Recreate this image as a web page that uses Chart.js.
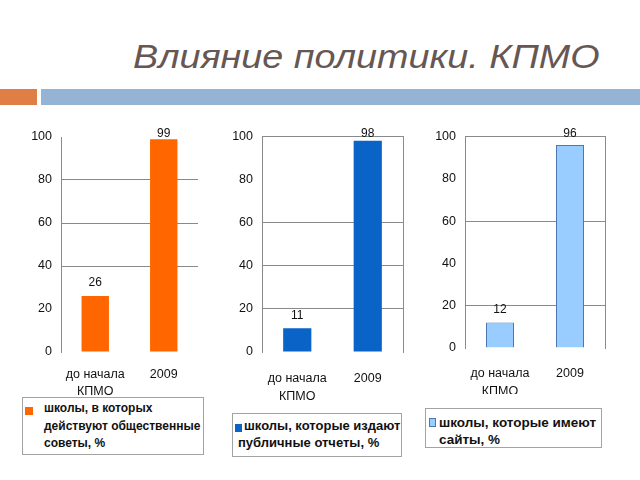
<!DOCTYPE html>
<html lang="ru">
<head>
<meta charset="utf-8">
<title>Влияние политики. КПМО</title>
<script src="https://cdn.jsdelivr.net/npm/chart.js@4.4.1/dist/chart.umd.min.js"></script>
<style>
    html, body { margin: 0; padding: 0; background: #fff; }
    body { width: 640px; height: 480px; position: relative; overflow: hidden;
           font-family: "Liberation Sans", Arial, sans-serif; }
    .title { position: absolute; left: 133px; top: 39px; font-size: 34px; line-height: 1;
             font-style: italic; color: #665754; white-space: nowrap;
             transform: scaleX(1.11); transform-origin: 0 0; }
    .rule-a { position: absolute; left: 0; top: 89px; width: 37px; height: 16px; background: #e07f45; }
    .rule-b { position: absolute; left: 41px; top: 89px; width: 599px; height: 16px; background: #95b3d2; }
    .box { position: absolute; }
    .box canvas { display: block; }
    .legend { position: absolute; border: 1px solid #a3a3a3; box-sizing: border-box;
              font-weight: bold; color: #111; }
    .legend .sw { position: absolute; }
    .legend .txt { position: absolute; }
</style>
</head>
<body>
<div class="title">Влияние политики. КПМО</div>
<div class="rule-a"></div>
<div class="rule-b"></div>

<div class="box" style="left:20px; top:120px; width:185px; height:277px;"><canvas id="councilsChart"></canvas></div>
<div class="box" style="left:220px; top:120px; width:190px; height:280px;"><canvas id="reportsChart"></canvas></div>
<div class="box" style="left:424px; top:120px; width:188px; height:274px;"><canvas id="sitesChart"></canvas></div>

<div class="legend" id="legend1" style="left:22px; top:397px; width:182px; height:58px; font-size:12px;"></div>
<div class="legend" id="legend2" style="left:232px; top:413px; width:170px; height:44px; font-size:13px;"></div>
<div class="legend" id="legend3" style="left:425px; top:408px; width:177px; height:40px; font-size:13.5px;"></div>

<script>
// Данные
const categories = [['до начала', 'КПМО'], '2009'];
const councilsValues = [26, 99];
const reportsValues = [11, 98];
const sitesValues = [12, 96];
const yTicks = [0, 20, 40, 60, 80, 100];
const seriesNames = [
    'школы, в которых действуют общественные советы, %',
    'школы, которые издают публичные отчеты, %',
    'школы, которые имеют сайты, %'
];

const axisFont = '"Liberation Sans", Arial, sans-serif';

// подписи значений над столбцами
const valueLabels = {
    id: 'valueLabels',
    afterDatasetsDraw(chart) {
        const ctx = chart.ctx;
        const meta = chart.getDatasetMeta(0);
        ctx.save();
        ctx.font = '12px ' + axisFont;
        ctx.fillStyle = '#111';
        ctx.textAlign = 'center';
        ctx.textBaseline = 'middle';
        meta.data.forEach((bar, i) => {
            const y = Math.max(bar.y - 13, chart.chartArea.top - 3);
            ctx.fillText(chart.data.datasets[0].data[i], bar.x, y);
        });
        ctx.restore();
    }
};

const createBarChart = (canvasId, values, cfg) => {
    const ctx = document.getElementById(canvasId);
    if (!ctx) return;

    new Chart(ctx, {
        type: 'bar',
        data: {
            labels: categories,
            datasets: [{
                data: values,
                backgroundColor: cfg.color,
                borderColor: cfg.border || cfg.color,
                borderWidth: cfg.border ? 1 : 0,
                categoryPercentage: 1,
                barPercentage: 0.4
            }]
        },
        options: {
            responsive: true,
            maintainAspectRatio: false,
            animation: false,
            layout: { padding: cfg.padding },
            plugins: {
                legend: { display: false },
                tooltip: { enabled: false }
            },
            scales: {
                x: {
                    grid: { display: false, drawTicks: false },
                    border: { display: false },
                    ticks: {
                        color: '#111',
                        padding: cfg.xPad,
                        maxRotation: 0,
                        minRotation: 0,
                        autoSkip: false,
                        font: { family: axisFont, size: 12.5, lineHeight: cfg.xLine + 'px' }
                    },
                    afterFit: (s) => { s.height = cfg.xHeight; s.paddingLeft = 0; s.paddingRight = 0; }
                },
                y: {
                    min: 0,
                    max: 100,
                    afterBuildTicks: (s) => { s.ticks = yTicks.map(v => ({ value: v })); },
                    grid: {
                        drawTicks: false,
                        color: (c) => cfg.grid.includes(c.tick && c.tick.value) ? '#8a8a8a' : 'rgba(0,0,0,0)'
                    },
                    border: { display: true, color: '#8a8a8a' },
                    ticks: { color: '#111', padding: 9, font: { family: axisFont, size: 12.5 } },
                    afterFit: (s) => { s.width = 41; }
                },
                y2: {
                    position: 'right',
                    display: cfg.frame,
                    min: 0,
                    max: 100,
                    grid: { drawOnChartArea: false, drawTicks: false },
                    border: { display: true, color: '#8a8a8a' },
                    ticks: { display: false },
                    afterFit: (s) => { s.width = 0; }
                }
            }
        },
        plugins: [valueLabels]
    });
};

createBarChart('councilsChart', councilsValues, {
    color: '#ff6600',
    padding: { top: 17, right: 7, left: 0, bottom: 0 },
    xPad: 14.5, xLine: 16.7, xHeight: 45,
    grid: [40, 60, 80],
    frame: false
});
createBarChart('reportsChart', reportsValues, {
    color: '#0a64c8',
    padding: { top: 15, right: 7, left: 1, bottom: 0 },
    xPad: 17, xLine: 18.3, xHeight: 48,
    grid: [20, 40, 60, 100],
    frame: true
});
createBarChart('sitesChart', sitesValues, {
    color: '#99ccff',
    border: '#4a78b0',
    padding: { top: 15, right: 7, left: 0, bottom: 0 },
    xPad: 16, xLine: 18.3, xHeight: 46,
    grid: [20, 60, 100],
    frame: true
});

// легенды в рамках под графиками
const buildLegend = (id, name, color, border, sw, txt) => {
    const el = document.getElementById(id);
    const s = document.createElement('span');
    s.className = 'sw';
    s.style.cssText = `left:${sw[0]}px;top:${sw[1]}px;width:${sw[2]}px;height:${sw[3]}px;background:${color};` +
        (border ? `box-shadow: inset 0 0 0 1px ${border};` : '');
    const t = document.createElement('div');
    t.className = 'txt';
    t.textContent = name;
    t.style.cssText = `left:${txt.left}px;top:${txt.top}px;width:${txt.width}px;line-height:${txt.line}px;text-indent:${txt.indent || 0}px;`;
    el.appendChild(s);
    el.appendChild(t);
};

buildLegend('legend1', seriesNames[0], '#ff6600', null, [2, 9, 8, 8], { left: 21, top: 2, width: 159, line: 17.5 });
buildLegend('legend2', seriesNames[1], '#0a64c8', null, [2, 10, 7, 8], { left: 5, top: 3, width: 166, line: 17, indent: 6 });
buildLegend('legend3', seriesNames[2], '#99ccff', '#4a78b0', [3, 9, 7, 9], { left: 13, top: 5, width: 172, line: 17 });
</script>
</body>
</html>
